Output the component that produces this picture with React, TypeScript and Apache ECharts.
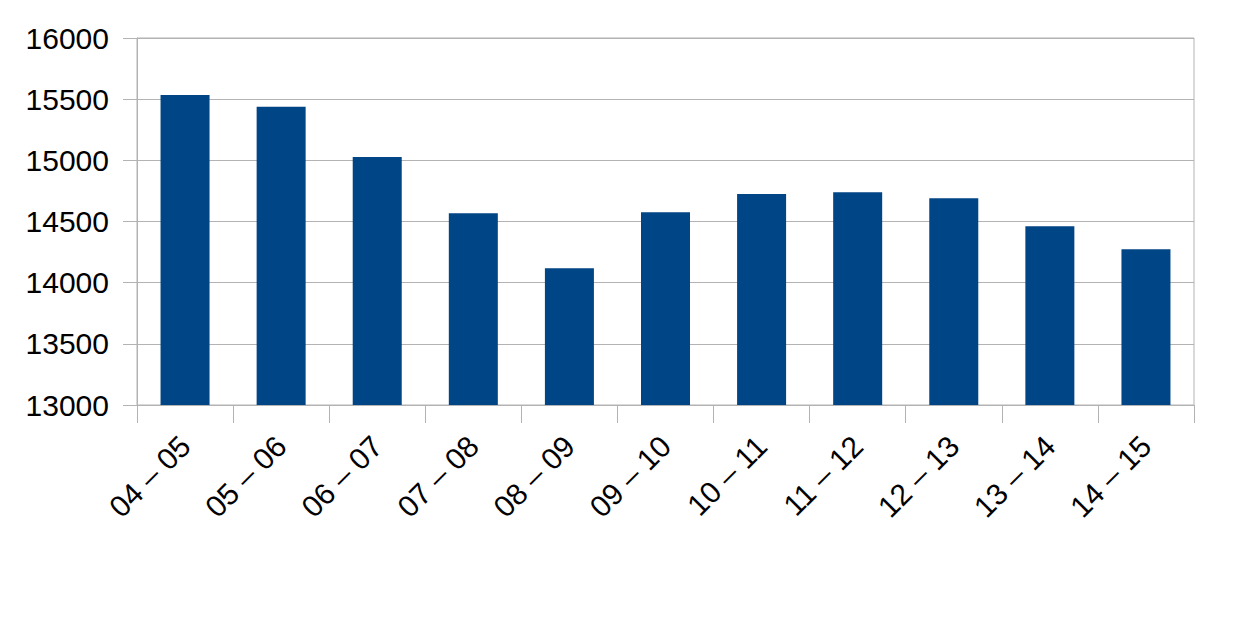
import React, { useEffect, useRef } from "react";
import * as echarts from "echarts";

const categories = ["04 – 05", "05 – 06", "06 – 07", "07 – 08", "08 – 09", "09 – 10", "10 – 11", "11 – 12", "12 – 13", "13 – 14", "14 – 15"];
const values = [15535, 15437, 15027, 14568, 14117, 14576, 14724, 14740, 14691, 14462, 14273];
const yMin = 13000;
const yMax = 16000;
const yStep = 500;

export default function App() {
  const ref = useRef<HTMLDivElement>(null);
  useEffect(() => {
    if (!ref.current) return;
    const chart = echarts.init(ref.current, null, { renderer: "svg" });
    const font = "'Liberation Sans', Arial, sans-serif";
    chart.setOption({
      animation: false,
      backgroundColor: "#ffffff",
      grid: {
        left: 129, top: 30, right: 53, bottom: 210, containLabel: false,
        show: true, borderColor: "#b3b3b3", borderWidth: 1,
      },
      xAxis: {
        type: "category",
        data: categories,
        axisLine: { show: true, lineStyle: { color: "#b3b3b3", width: 1 } },
        axisTick: { show: true, length: 18, lineStyle: { color: "#b3b3b3" }, alignWithLabel: false },
        axisLabel: { rotate: 45, margin: 36, fontSize: 30, color: "#000", fontFamily: font, interval: 0 },
        splitLine: { show: false },
      },
      yAxis: {
        type: "value",
        min: yMin,
        max: yMax,
        interval: yStep,
        axisLine: { show: true, lineStyle: { color: "#b3b3b3", width: 1 } },
        axisTick: { show: true, length: 14, lineStyle: { color: "#b3b3b3" } },
        axisLabel: {
          margin: 28, fontSize: 30, color: "#000", fontFamily: font,
          formatter: (v: number) => String(v),
        },
        splitLine: { show: true, lineStyle: { color: "#b3b3b3", width: 1 } },
      },
      series: [
        {
          type: "bar",
          data: values,
          barWidth: "51%",
          itemStyle: { color: "#004586" },
        },
      ],
    });
    return () => chart.dispose();
  }, []);
  return <div ref={ref} style={{ width: 1239, height: 607 }} />;
}
